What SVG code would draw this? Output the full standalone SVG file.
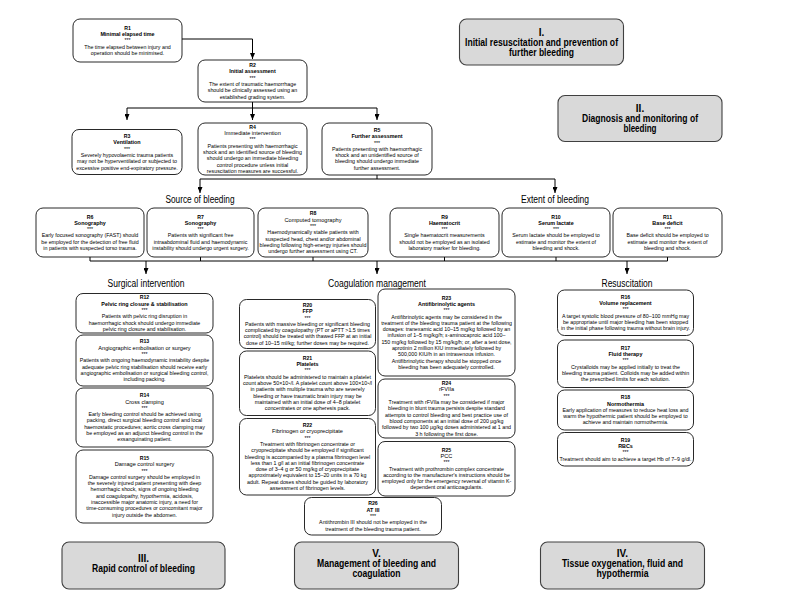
<svg xmlns="http://www.w3.org/2000/svg" width="800" height="605" viewBox="0 0 800 605">
<style>
text{font-family:"Liberation Sans",Arial,sans-serif;text-anchor:middle;fill:#000}
.box{fill:#fff;stroke:#111;stroke-width:0.9}
.sec{fill:#d9d9d9;stroke:#404040;stroke-width:1.1}
.rid{font-size:5.2px;font-weight:bold}
.tt{font-size:5.4px;font-weight:bold}
.tr{font-size:5.6px}
.bd{font-size:5.3px}
.lbl{font-size:10px}
.sect{font-size:10px;font-weight:bold}
.conn{fill:none;stroke:#000;stroke-width:1}
</style>
<defs>
<marker id="ah" viewBox="0 0 6 5" refX="6" refY="2.5" markerWidth="6" markerHeight="5" orient="auto" markerUnits="userSpaceOnUse">
<path d="M0,0 L6,2.5 L0,5 z" fill="#000"/>
</marker>
</defs>

<g id="connectors">
<path class="conn" d="M182,39 H252.5 V59" marker-end="url(#ah)"/>
<path class="conn" d="M252.5,102 V108 M127,108 H377"/>
<path class="conn" d="M127,108 V120" marker-end="url(#ah)"/>
<path class="conn" d="M252.5,108 V120" marker-end="url(#ah)"/>
<path class="conn" d="M377,108 V120" marker-end="url(#ah)"/>
<path class="conn" d="M377,175 V179 M200,179 H555"/>
<path class="conn" d="M200,179 V193" marker-end="url(#ah)"/>
<path class="conn" d="M555,179 V193" marker-end="url(#ah)"/>
<path class="conn" d="M90,257 V261 M200.5,257 V261 M313,257 V261 M444.5,257 V261 M556,257 V261 M667.5,257 V261 M90,261 H667.5"/>
<path class="conn" d="M146,261 V274" marker-end="url(#ah)"/>
<path class="conn" d="M377,261 V274" marker-end="url(#ah)"/>
<path class="conn" d="M627,261 V274" marker-end="url(#ah)"/>
</g>

<g id="labels">
<text class="lbl" x="200" y="202.5" textLength="69" lengthAdjust="spacingAndGlyphs">Source of bleeding</text>
<text class="lbl" x="555" y="202.5" textLength="68" lengthAdjust="spacingAndGlyphs">Extent of bleeding</text>
<text class="lbl" x="146" y="287" textLength="77" lengthAdjust="spacingAndGlyphs">Surgical intervention</text>
<text class="lbl" x="377" y="287" textLength="98" lengthAdjust="spacingAndGlyphs">Coagulation management</text>
<text class="lbl" x="627" y="287" textLength="51" lengthAdjust="spacingAndGlyphs">Resuscitation</text>
</g>

<g id="secI">
<rect class="sec" x="459.5" y="19" width="164" height="46" rx="7"/>
<text class="sect" x="541.5" y="35.5">I.</text>
<text class="sect" x="541.5" y="45.5" textLength="153" lengthAdjust="spacingAndGlyphs">Initial resuscitation and prevention of</text>
<text class="sect" x="541.5" y="55.5" textLength="65" lengthAdjust="spacingAndGlyphs">further bleeding</text>
</g>
<g id="secII">
<rect class="sec" x="558" y="95.5" width="164" height="46" rx="7"/>
<text class="sect" x="640" y="111.5">II.</text>
<text class="sect" x="640" y="121.5" textLength="116" lengthAdjust="spacingAndGlyphs">Diagnosis and monitoring of</text>
<text class="sect" x="640" y="131.5" textLength="33" lengthAdjust="spacingAndGlyphs">bleeding</text>
</g>
<g id="secIII">
<rect class="sec" x="62" y="542" width="163" height="47" rx="7"/>
<text class="sect" x="143.5" y="562">III.</text>
<text class="sect" x="143.5" y="572" textLength="103" lengthAdjust="spacingAndGlyphs">Rapid control of bleeding</text>
</g>
<g id="secV">
<rect class="sec" x="294.5" y="542" width="164" height="47" rx="7"/>
<text class="sect" x="376.5" y="556.5">V.</text>
<text class="sect" x="376.5" y="566.5" textLength="119" lengthAdjust="spacingAndGlyphs">Management of bleeding and</text>
<text class="sect" x="376.5" y="576.5" textLength="48" lengthAdjust="spacingAndGlyphs">coagulation</text>
</g>
<g id="secIV">
<rect class="sec" x="540.5" y="542" width="164" height="47" rx="7"/>
<text class="sect" x="622.5" y="556.5">IV.</text>
<text class="sect" x="622.5" y="566.5" textLength="121" lengthAdjust="spacingAndGlyphs">Tissue oxygenation, fluid and</text>
<text class="sect" x="622.5" y="576.5" textLength="52" lengthAdjust="spacingAndGlyphs">hypothermia</text>
</g>

<g id="R1"><rect class="box" x="73" y="19" width="109" height="43" rx="7"/>
<text x="127.5" y="29.7"><tspan class="rid">R1</tspan><tspan x="127.5" dy="6.3" class="tt">Minimal elapsed time</tspan><tspan x="127.5" dy="6.3" class="bd">***</tspan><tspan x="127.5" dy="6.3" class="bd">The time elapsed between injury and</tspan><tspan x="127.5" dy="6.3" class="bd">operation should be minimised.</tspan></text></g>

<g id="R2"><rect class="box" x="198" y="60" width="109" height="42" rx="7"/>
<text x="252.5" y="67.05"><tspan class="rid">R2</tspan><tspan x="252.5" dy="6.3" class="tt">Initial assessment</tspan><tspan x="252.5" dy="6.3" class="bd">***</tspan><tspan x="252.5" dy="6.3" class="bd">The extent of traumatic haemorrhage</tspan><tspan x="252.5" dy="6.3" class="bd">should be clinically assessed using an</tspan><tspan x="252.5" dy="6.3" class="bd">established grading system.</tspan></text></g>

<g id="R3"><rect class="box" x="72" y="129.5" width="110" height="45" rx="7"/>
<text x="127" y="138.05"><tspan class="rid">R3</tspan><tspan x="127" dy="6.3" class="tt">Ventilation</tspan><tspan x="127" dy="6.3" class="bd">***</tspan><tspan x="127" dy="6.3" class="bd">Severely hypovolaemic trauma patients</tspan><tspan x="127" dy="6.3" class="bd">may not be hyperventilated or subjected to</tspan><tspan x="127" dy="6.3" class="bd">excessive positive end-expiratory pressure.</tspan></text></g>

<g id="R4"><rect class="box" x="198" y="123" width="109" height="52" rx="7"/>
<text x="252.5" y="128.75"><tspan class="rid">R4</tspan><tspan x="252.5" dy="6.3" class="tr">Immediate intervention</tspan><tspan x="252.5" dy="6.3" class="bd">***</tspan><tspan x="252.5" dy="6.3" class="bd">Patients presenting with haemorrhagic</tspan><tspan x="252.5" dy="6.3" class="bd">shock and an identified source of bleeding</tspan><tspan x="252.5" dy="6.3" class="bd">should undergo an immediate bleeding</tspan><tspan x="252.5" dy="6.3" class="bd">control procedure unless initial</tspan><tspan x="252.5" dy="6.3" class="bd">resuscitation measures are successful.</tspan></text></g>

<g id="R5"><rect class="box" x="322" y="123" width="110" height="52" rx="7"/>
<text x="377" y="131.9"><tspan class="rid">R5</tspan><tspan x="377" dy="6.3" class="tt">Further assessment</tspan><tspan x="377" dy="6.3" class="bd">***</tspan><tspan x="377" dy="6.3" class="bd">Patients presenting with haemorrhagic</tspan><tspan x="377" dy="6.3" class="bd">shock and an unidentified source of</tspan><tspan x="377" dy="6.3" class="bd">bleeding should undergo immediate</tspan><tspan x="377" dy="6.3" class="bd">further assessment.</tspan></text></g>

<g id="R6"><rect class="box" x="36" y="208" width="108" height="49" rx="7"/>
<text x="90" y="218.55"><tspan class="rid">R6</tspan><tspan x="90" dy="6.3" class="tt">Sonography</tspan><tspan x="90" dy="6.3" class="bd">***</tspan><tspan x="90" dy="6.3" class="bd">Early focused sonography (FAST) should</tspan><tspan x="90" dy="6.3" class="bd">be employed for the detection of free fluid</tspan><tspan x="90" dy="6.3" class="bd">in patients with suspected torso trauma.</tspan></text></g>

<g id="R7"><rect class="box" x="147" y="208" width="107" height="49" rx="7"/>
<text x="200.5" y="218.55"><tspan class="rid">R7</tspan><tspan x="200.5" dy="6.3" class="tt">Sonography</tspan><tspan x="200.5" dy="6.3" class="bd">***</tspan><tspan x="200.5" dy="6.3" class="bd">Patients with significant free</tspan><tspan x="200.5" dy="6.3" class="bd">intraabdominal fluid and haemodynamic</tspan><tspan x="200.5" dy="6.3" class="bd">instability should undergo urgent surgery.</tspan></text></g>

<g id="R8"><rect class="box" x="258" y="208" width="110" height="49" rx="7"/>
<text x="313" y="215.4"><tspan class="rid">R8</tspan><tspan x="313" dy="6.3" class="tr">Computed tomography</tspan><tspan x="313" dy="6.3" class="bd">***</tspan><tspan x="313" dy="6.3" class="bd">Haemodynamically stable patients with</tspan><tspan x="313" dy="6.3" class="bd">suspected head, chest and/or abdominal</tspan><tspan x="313" dy="6.3" class="bd">bleeding following high-energy injuries should</tspan><tspan x="313" dy="6.3" class="bd">undergo further assessment using CT.</tspan></text></g>

<g id="R9"><rect class="box" x="390" y="208" width="109" height="49" rx="7"/>
<text x="444.5" y="218.55"><tspan class="rid">R9</tspan><tspan x="444.5" dy="6.3" class="tt">Haematocrit</tspan><tspan x="444.5" dy="6.3" class="bd">***</tspan><tspan x="444.5" dy="6.3" class="bd">Single haematocrit measurements</tspan><tspan x="444.5" dy="6.3" class="bd">should not be employed as an isolated</tspan><tspan x="444.5" dy="6.3" class="bd">laboratory marker for bleeding.</tspan></text></g>

<g id="R10"><rect class="box" x="502" y="208" width="108" height="49" rx="7"/>
<text x="556" y="218.55"><tspan class="rid">R10</tspan><tspan x="556" dy="6.3" class="tt">Serum lactate</tspan><tspan x="556" dy="6.3" class="bd">***</tspan><tspan x="556" dy="6.3" class="bd">Serum lactate should be employed to</tspan><tspan x="556" dy="6.3" class="bd">estimate and monitor the extent of</tspan><tspan x="556" dy="6.3" class="bd">bleeding and shock.</tspan></text></g>

<g id="R11"><rect class="box" x="613" y="208" width="109" height="49" rx="7"/>
<text x="667.5" y="218.55"><tspan class="rid">R11</tspan><tspan x="667.5" dy="6.3" class="tt">Base deficit</tspan><tspan x="667.5" dy="6.3" class="bd">***</tspan><tspan x="667.5" dy="6.3" class="bd">Base deficit should be employed to</tspan><tspan x="667.5" dy="6.3" class="bd">estimate and monitor the extent of</tspan><tspan x="667.5" dy="6.3" class="bd">bleeding and shock.</tspan></text></g>

<g id="R12"><rect class="box" x="76" y="293.5" width="137" height="39.5" rx="7"/>
<text x="144.5" y="299.3"><tspan class="rid">R12</tspan><tspan x="144.5" dy="6.3" class="tt">Pelvic ring closure &amp; stabilisation</tspan><tspan x="144.5" dy="6.3" class="bd">***</tspan><tspan x="144.5" dy="6.3" class="bd">Patients with pelvic ring disruption in</tspan><tspan x="144.5" dy="6.3" class="bd">haemorrhagic shock should undergo immediate</tspan><tspan x="144.5" dy="6.3" class="bd">pelvic ring closure and stabilisation.</tspan></text></g>

<g id="R13"><rect class="box" x="76" y="335" width="137" height="51" rx="7"/>
<text x="144.5" y="343.4"><tspan class="rid">R13</tspan><tspan x="144.5" dy="6.3" class="tr">Angiographic embolisation or surgery</tspan><tspan x="144.5" dy="6.3" class="bd">***</tspan><tspan x="144.5" dy="6.3" class="bd">Patients with ongoing haemodynamic instability despite</tspan><tspan x="144.5" dy="6.3" class="bd">adequate pelvic ring stabilisation should receive early</tspan><tspan x="144.5" dy="6.3" class="bd">angiographic embolisation or surgical bleeding control,</tspan><tspan x="144.5" dy="6.3" class="bd">including packing.</tspan></text></g>

<g id="R14"><rect class="box" x="76" y="388" width="137" height="59" rx="7"/>
<text x="144.5" y="397.25"><tspan class="rid">R14</tspan><tspan x="144.5" dy="6.3" class="tr">Cross clamping</tspan><tspan x="144.5" dy="6.3" class="bd">***</tspan><tspan x="144.5" dy="6.3" class="bd">Early bleeding control should be achieved using</tspan><tspan x="144.5" dy="6.3" class="bd">packing, direct surgical bleeding control and local</tspan><tspan x="144.5" dy="6.3" class="bd">haemostatic procedures; aortic cross clamping may</tspan><tspan x="144.5" dy="6.3" class="bd">be employed as an adjunct bleeding control in the</tspan><tspan x="144.5" dy="6.3" class="bd">exsanguinating patient.</tspan></text></g>

<g id="R15"><rect class="box" x="76" y="450" width="137" height="73" rx="7"/>
<text x="144.5" y="459.95"><tspan class="rid">R15</tspan><tspan x="144.5" dy="6.3" class="tr">Damage control surgery</tspan><tspan x="144.5" dy="6.3" class="bd">***</tspan><tspan x="144.5" dy="6.3" class="bd">Damage control surgery should be employed in</tspan><tspan x="144.5" dy="6.3" class="bd">the severely injured patient presenting with deep</tspan><tspan x="144.5" dy="6.3" class="bd">hemorrhagic shock, signs of ongoing bleeding</tspan><tspan x="144.5" dy="6.3" class="bd">and coagulopathy, hypothermia, acidosis,</tspan><tspan x="144.5" dy="6.3" class="bd">inaccessible major anatomic injury, a need for</tspan><tspan x="144.5" dy="6.3" class="bd">time-consuming procedures or concomitant major</tspan><tspan x="144.5" dy="6.3" class="bd">injury outside the abdomen.</tspan></text></g>

<g id="R20"><rect class="box" x="239.5" y="299.5" width="136" height="49" rx="7"/>
<text x="307.5" y="306.9"><tspan class="rid">R20</tspan><tspan x="307.5" dy="6.3" class="tt">FFP</tspan><tspan x="307.5" dy="6.3" class="bd">***</tspan><tspan x="307.5" dy="6.3" class="bd">Patients with massive bleeding or significant bleeding</tspan><tspan x="307.5" dy="6.3" class="bd">complicated by coagulopathy (PT or aPTT &gt;1.5 times</tspan><tspan x="307.5" dy="6.3" class="bd">control) should be treated with thawed FFP at an initial</tspan><tspan x="307.5" dy="6.3" class="bd">dose of 10–15 ml/kg; further doses may be required.</tspan></text></g>

<g id="R21"><rect class="box" x="239.5" y="351" width="136" height="64.5" rx="7"/>
<text x="307.5" y="359.85"><tspan class="rid">R21</tspan><tspan x="307.5" dy="6.3" class="tt">Platelets</tspan><tspan x="307.5" dy="6.3" class="bd">***</tspan><tspan x="307.5" dy="6.3" class="bd">Platelets should be administered to maintain a platelet</tspan><tspan x="307.5" dy="6.3" class="bd">count above 50×10⁹/l. A platelet count above 100×10⁹/l</tspan><tspan x="307.5" dy="6.3" class="bd">in patients with multiple trauma who are severely</tspan><tspan x="307.5" dy="6.3" class="bd">bleeding or have traumatic brain injury may be</tspan><tspan x="307.5" dy="6.3" class="bd">maintained with an initial dose of 4–8 platelet</tspan><tspan x="307.5" dy="6.3" class="bd">concentrates or one apheresis pack.</tspan></text></g>

<g id="R22"><rect class="box" x="239.5" y="418.5" width="136" height="76.5" rx="7"/>
<text x="307.5" y="427.05"><tspan class="rid">R22</tspan><tspan x="307.5" dy="6.3" class="tr">Fibrinogen or cryoprecipitate</tspan><tspan x="307.5" dy="6.3" class="bd">***</tspan><tspan x="307.5" dy="6.3" class="bd">Treatment with fibrinogen concentrate or</tspan><tspan x="307.5" dy="6.3" class="bd">cryoprecipitate should be employed if significant</tspan><tspan x="307.5" dy="6.3" class="bd">bleeding is accompanied by a plasma fibrinogen level</tspan><tspan x="307.5" dy="6.3" class="bd">less than 1 g/l at an initial fibrinogen concentrate</tspan><tspan x="307.5" dy="6.3" class="bd">dose of 3–4 g or 50 mg/kg of cryoprecipitate</tspan><tspan x="307.5" dy="6.3" class="bd">approximately equivalent to 15–20 units in a 70 kg</tspan><tspan x="307.5" dy="6.3" class="bd">adult. Repeat doses should be guided by laboratory</tspan><tspan x="307.5" dy="6.3" class="bd">assessment of fibrinogen levels.</tspan></text></g>

<g id="R23"><rect class="box" x="378" y="289" width="137" height="87" rx="7"/>
<text x="446.5" y="299.65"><tspan class="rid">R23</tspan><tspan x="446.5" dy="6.3" class="tt">Antifibrinolytic agents</tspan><tspan x="446.5" dy="6.3" class="bd">***</tspan><tspan x="446.5" dy="6.3" class="bd">Antifibrinolytic agents may be considered in the</tspan><tspan x="446.5" dy="6.3" class="bd">treatment of the bleeding trauma patient at the following</tspan><tspan x="446.5" dy="6.3" class="bd">dosages: tranexamic acid 10–15 mg/kg followed by an</tspan><tspan x="446.5" dy="6.3" class="bd">infusion of 1–5 mg/kg/h; ε-aminocaproic acid 100–</tspan><tspan x="446.5" dy="6.3" class="bd">150 mg/kg followed by 15 mg/kg/h; or, after a test dose,</tspan><tspan x="446.5" dy="6.3" class="bd">aprotinin 2 million KIU immediately followed by</tspan><tspan x="446.5" dy="6.3" class="bd">500,000 KIU/h in an intravenous infusion.</tspan><tspan x="446.5" dy="6.3" class="bd">Antifibrinolytic therapy should be stopped once</tspan><tspan x="446.5" dy="6.3" class="bd">bleeding has been adequately controlled.</tspan></text></g>

<g id="R24"><rect class="box" x="378" y="379" width="137" height="59" rx="7"/>
<text x="446.5" y="385.1"><tspan class="rid">R24</tspan><tspan x="446.5" dy="6.3" class="tr">rFVIIa</tspan><tspan x="446.5" dy="6.3" class="bd">***</tspan><tspan x="446.5" dy="6.3" class="bd">Treatment with rFVIIa may be considered if major</tspan><tspan x="446.5" dy="6.3" class="bd">bleeding in blunt trauma persists despite standard</tspan><tspan x="446.5" dy="6.3" class="bd">attempts to control bleeding and best practice use of</tspan><tspan x="446.5" dy="6.3" class="bd">blood components at an initial dose of 200 μg/kg</tspan><tspan x="446.5" dy="6.3" class="bd">followed by two 100 μg/kg doses administered at 1 and</tspan><tspan x="446.5" dy="6.3" class="bd">3 h following the first dose.</tspan></text></g>

<g id="R25"><rect class="box" x="378" y="441.5" width="137" height="54.5" rx="7"/>
<text x="446.5" y="451.65"><tspan class="rid">R25</tspan><tspan x="446.5" dy="6.3" class="tr">PCC</tspan><tspan x="446.5" dy="6.3" class="bd">***</tspan><tspan x="446.5" dy="6.3" class="bd">Treatment with prothrombin complex concentrate</tspan><tspan x="446.5" dy="6.3" class="bd">according to the manufacturer's instructions should be</tspan><tspan x="446.5" dy="6.3" class="bd">employed only for the emergency reversal of vitamin K-</tspan><tspan x="446.5" dy="6.3" class="bd">dependent oral anticoagulants.</tspan></text></g>

<g id="R26"><rect class="box" x="304.5" y="497.5" width="137" height="37.5" rx="7"/>
<text x="373" y="505.45"><tspan class="rid">R26</tspan><tspan x="373" dy="6.3" class="tt">AT III</tspan><tspan x="373" dy="6.3" class="bd">***</tspan><tspan x="373" dy="6.3" class="bd">Antithrombin III should not be employed in the</tspan><tspan x="373" dy="6.3" class="bd">treatment of the bleeding trauma patient.</tspan></text></g>

<g id="R16"><rect class="box" x="557.5" y="290" width="136" height="45.5" rx="7"/>
<text x="625.5" y="298.8"><tspan class="rid">R16</tspan><tspan x="625.5" dy="6.3" class="tt">Volume replacement</tspan><tspan x="625.5" dy="6.3" class="bd">***</tspan><tspan x="625.5" dy="6.3" class="bd">A target systolic blood pressure of 80–100 mmHg may</tspan><tspan x="625.5" dy="6.3" class="bd">be appropriate until major bleeding has been stopped</tspan><tspan x="625.5" dy="6.3" class="bd">in the initial phase following trauma without brain injury.</tspan></text></g>

<g id="R17"><rect class="box" x="557.5" y="340" width="136" height="47.5" rx="7"/>
<text x="625.5" y="349.8"><tspan class="rid">R17</tspan><tspan x="625.5" dy="6.3" class="tt">Fluid therapy</tspan><tspan x="625.5" dy="6.3" class="bd">***</tspan><tspan x="625.5" dy="6.3" class="bd">Crystalloids may be applied initially to treat the</tspan><tspan x="625.5" dy="6.3" class="bd">bleeding trauma patient. Colloids may be added within</tspan><tspan x="625.5" dy="6.3" class="bd">the prescribed limits for each solution.</tspan></text></g>

<g id="R18"><rect class="box" x="557.5" y="390" width="136" height="40" rx="7"/>
<text x="625.5" y="399.2"><tspan class="rid">R18</tspan><tspan x="625.5" dy="6.3" class="tt">Normothermia</tspan><tspan x="625.5" dy="6.3" class="bd">Early application of measures to reduce heat loss and</tspan><tspan x="625.5" dy="6.3" class="bd">warm the hypothermic patient should be employed to</tspan><tspan x="625.5" dy="6.3" class="bd">achieve and maintain normothermia.</tspan></text></g>

<g id="R19"><rect class="box" x="557.5" y="432.5" width="136" height="33.5" rx="7"/>
<text x="625.5" y="441.6"><tspan class="rid">R19</tspan><tspan x="625.5" dy="6.3" class="tt">RBCs</tspan><tspan x="625.5" dy="6.3" class="bd">***</tspan><tspan x="625.5" dy="6.3" class="bd">Treatment should aim to achieve a target Hb of 7–9 g/dl.</tspan></text></g>
</svg>
